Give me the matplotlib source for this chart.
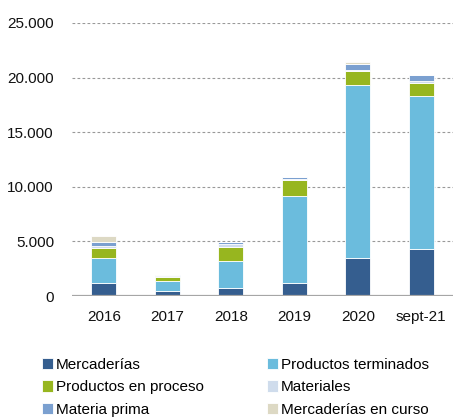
import numpy as np
import matplotlib.pyplot as plt

plt.rcParams['font.family'] = ['Liberation Sans', 'DejaVu Sans']

years = ['2016', '2017', '2018', '2019', '2020', 'sept-21']
mercaderias = [1220, 500, 760, 1220, 3460, 4280]
prod_terminados = [2240, 880, 2480, 7950, 15870, 14040]
prod_proceso = [970, 390, 1260, 1470, 1250, 1190]
materiales = [120, 80, 230, 100, 90, 210]
materia_prima = [420, 100, 230, 150, 590, 530]
merc_curso = [530, 0, 30, 30, 210, 0]

series = [
    ('Mercaderías', mercaderias, '#355E8F'),
    ('Productos terminados', prod_terminados, '#6BBCDD'),
    ('Productos en proceso', prod_proceso, '#97B61F'),
    ('Materiales', materiales, '#CFDCEC'),
    ('Materia prima', materia_prima, '#7BA0D0'),
    ('Mercaderías en curso', merc_curso, '#DDD9C4'),
]

fig = plt.figure(figsize=(4.53, 4.17), dpi=100)
ax = fig.add_axes([0.159, 0.29, 0.841, 0.655])

x = np.arange(len(years))
bottom = np.zeros(len(years))
handles = {}
for name, vals, color in series:
    vals = np.array(vals, dtype=float)
    b = ax.bar(x, vals, width=0.39, bottom=bottom, color=color,
               edgecolor='white', linewidth=0.6, label=name, zorder=3)
    handles[name] = b
    bottom += vals

ax.set_ylim(0, 25000)
ax.set_xlim(-0.5, 5.5)
ax.set_yticks(range(0, 25001, 5000))
ax.set_yticklabels(['0', '5.000', '10.000', '15.000', '20.000', '25.000'])
ax.set_xticks(x)
ax.set_xticklabels(years)
ax.tick_params(axis='both', length=0, labelsize=11, colors='#111111')
ax.tick_params(axis='x', pad=10)
ax.tick_params(axis='y', pad=13)

for y in range(5000, 25001, 5000):
    ax.axhline(y, color='#999999', linestyle=(0, (2.5, 2)), linewidth=0.8, zorder=1)
ax.axhline(0, color='#A6A6A6', linewidth=1.6, zorder=4)

for s in ax.spines.values():
    s.set_visible(False)

order = ['Mercaderías', 'Productos en proceso', 'Materia prima',
         'Productos terminados', 'Materiales', 'Mercaderías en curso']
leg = fig.legend([handles[n] for n in order], order, ncol=2,
                 loc='upper left', bbox_to_anchor=(0.075, 0.16),
                 frameon=False, fontsize=11, handlelength=0.75,
                 handleheight=0.75, handletextpad=0.2,
                 columnspacing=4.1, labelspacing=0.55, borderpad=0)

fig.savefig('out.png', dpi=100)
